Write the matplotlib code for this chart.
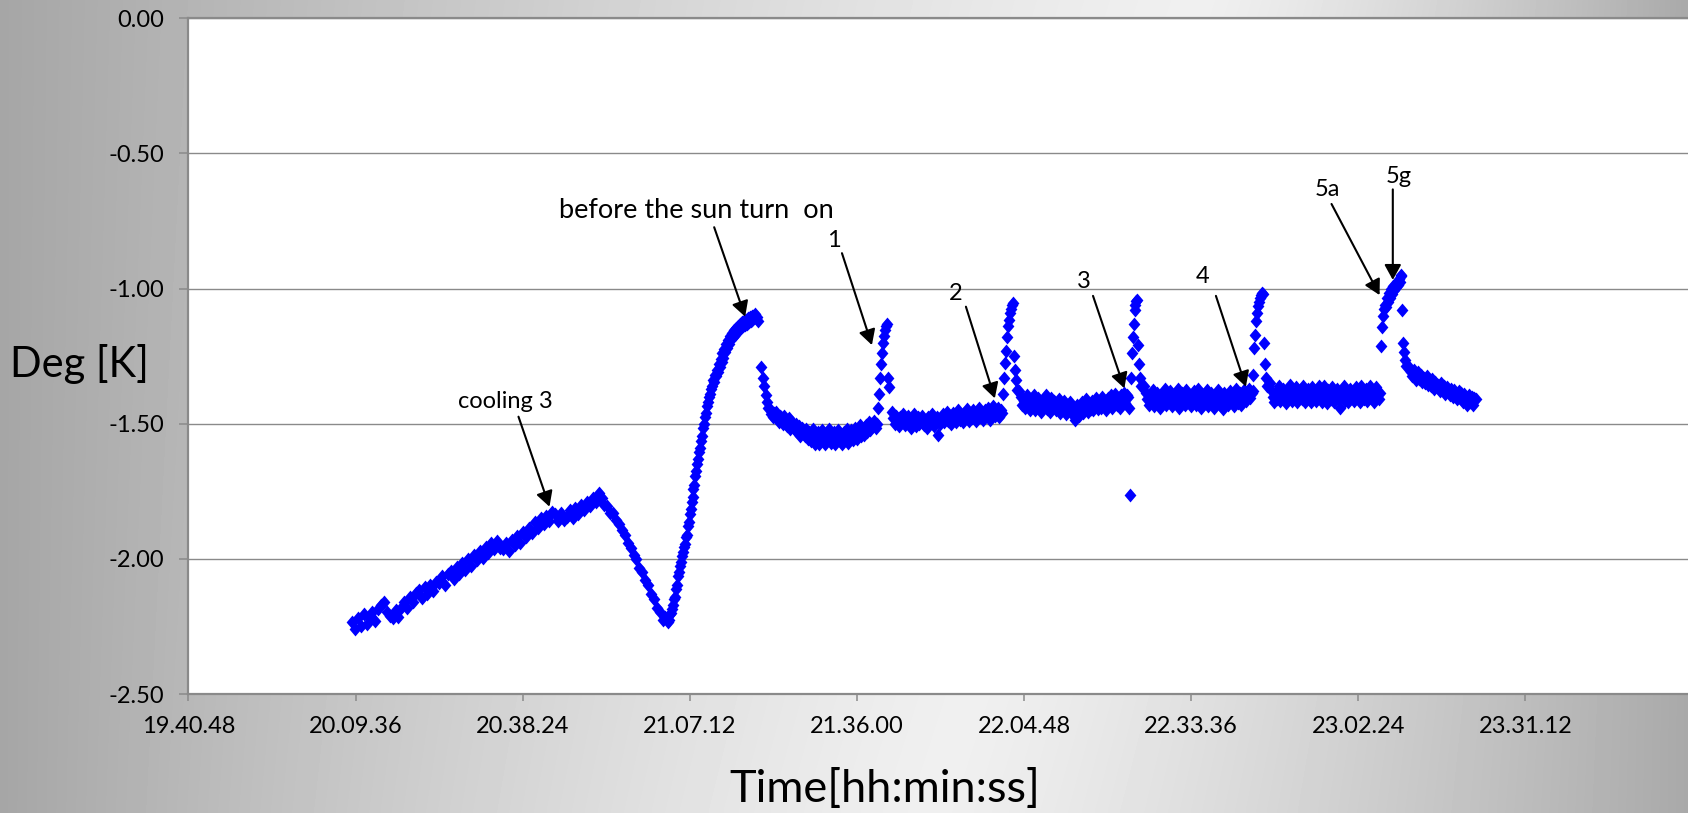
import numpy as np
import matplotlib
matplotlib.use("Agg")
import matplotlib.pyplot as plt
from matplotlib.ticker import FormatStrFormatter

# temperature logger readings [K]
# each block: start time, sample interval in seconds, readings
seg_a_start, seg_a_step = "20:09:00", 30
seg_a = [-2.235, -2.26, -2.22, -2.25, -2.205, -2.24, -2.215, -2.195, -2.23, -2.185,
         -2.17, -2.16, -2.195, -2.21, -2.22, -2.19, -2.215, -2.18, -2.16, -2.18,
         -2.14, -2.16, -2.125, -2.115, -2.145, -2.105, -2.13, -2.095, -2.12, -2.085,
         -2.09, -2.065, -2.095, -2.055, -2.045, -2.075, -2.03, -2.055, -2.015, -2.04,
         -2.0, -2.025, -1.985, -2.005, -1.97, -1.995, -1.955, -1.98, -1.94, -1.965,
         -1.935, -1.96, -1.965, -1.94, -1.97, -1.93, -1.95, -1.915, -1.94, -1.9,
         -1.92, -1.885, -1.905, -1.865, -1.885, -1.85, -1.87, -1.84, -1.86, -1.825,
         -1.835, -1.86, -1.83, -1.855, -1.845, -1.82, -1.85, -1.81, -1.835, -1.8,
         -1.82, -1.79, -1.805, -1.775, -1.79, -1.755,
         -1.775, -1.8, -1.805, -1.83, -1.83, -1.855, -1.87, -1.895, -1.91, -1.94,
         -1.96, -1.985, -2.0, -2.035, -2.05, -2.08, -2.095, -2.13, -2.15, -2.18,
         -2.195, -2.225, -2.215, -2.235]

seg_b_start, seg_b_step = "21:03:40", 10
seg_b = [-2.225, -2.205, -2.2, -2.185, -2.17, -2.15, -2.14, -2.11, -2.095,
         -2.065, -2.05, -2.025, -2.01, -1.99, -1.975, -1.955, -1.945, -1.92,
         -1.91, -1.88, -1.865, -1.835, -1.815, -1.79, -1.77, -1.74, -1.725,
         -1.695, -1.675, -1.65, -1.63, -1.605, -1.59, -1.565, -1.545, -1.515,
         -1.5, -1.475, -1.46, -1.435, -1.42, -1.4, -1.39, -1.37, -1.36,
         -1.34, -1.345, -1.32, -1.325, -1.3, -1.31, -1.28, -1.29, -1.26,
         -1.27, -1.24, -1.255, -1.225, -1.235, -1.205, -1.22, -1.19, -1.205,
         -1.175, -1.185, -1.165, -1.18, -1.155, -1.17, -1.145, -1.16, -1.14,
         -1.15, -1.13, -1.145, -1.125, -1.14, -1.12, -1.135, -1.115, -1.13,
         -1.11, -1.125, -1.105, -1.12, -1.1, -1.115, -1.1, -1.11, -1.095,
         -1.11, -1.105, -1.12]

seg_c_start, seg_c_step = "21:19:30", 15
seg_c = [-1.29, -1.33, -1.36, -1.395, -1.42, -1.44, -1.445, -1.465, -1.475, -1.46,
         -1.455, -1.48, -1.495, -1.47, -1.475, -1.5, -1.47, -1.49, -1.51, -1.48,
         -1.52, -1.495, -1.505, -1.525, -1.5, -1.53, -1.51, -1.545, -1.515, -1.53,
         -1.545, -1.52, -1.555, -1.53, -1.565, -1.54, -1.52, -1.575, -1.55, -1.53,
         -1.575, -1.545, -1.525, -1.56, -1.575, -1.535, -1.555, -1.52, -1.57, -1.545,
         -1.53, -1.575, -1.55, -1.525, -1.565, -1.54, -1.575, -1.53, -1.555, -1.52,
         -1.57, -1.545, -1.525, -1.56, -1.535, -1.515, -1.555, -1.53, -1.505, -1.545,
         -1.52, -1.54, -1.505, -1.53, -1.495, -1.525, -1.5, -1.51, -1.49, -1.515,
         -1.5]

seg_d_start, seg_d_step = "21:39:40", 10
seg_d = [-1.44, -1.39, -1.33, -1.28, -1.24, -1.2, -1.175, -1.155, -1.14, -1.13,
         -1.33, -1.365]

seg_e_start, seg_e_step = "21:42:00", 15
seg_e = [-1.455, -1.48, -1.5, -1.47, -1.49, -1.51, -1.475, -1.495, -1.465, -1.505,
         -1.485, -1.47, -1.5, -1.515, -1.48, -1.465, -1.495, -1.51, -1.475, -1.5,
         -1.485, -1.47, -1.505, -1.49, -1.515, -1.475, -1.5, -1.48, -1.465, -1.51,
         -1.49, -1.475, -1.54, -1.5, -1.48, -1.465, -1.495, -1.475, -1.455, -1.49,
         -1.47, -1.5, -1.46, -1.48, -1.495, -1.465, -1.45, -1.485, -1.47, -1.495,
         -1.46, -1.475, -1.445, -1.49, -1.465, -1.48, -1.45, -1.47, -1.49, -1.455,
         -1.44, -1.475, -1.46, -1.485, -1.45, -1.47, -1.44, -1.465, -1.485, -1.45,
         -1.435, -1.47, -1.455, -1.44, -1.475, -1.45, -1.46]

seg_f_start, seg_f_step = "22:01:10", 10
seg_f = [-1.39, -1.33, -1.275, -1.23, -1.18, -1.14, -1.115, -1.09, -1.075, -1.06,
         -1.055, -1.25, -1.3, -1.34, -1.375]

seg_g_start, seg_g_step = "22:04:00", 15
seg_g = [-1.38, -1.4, -1.43, -1.415, -1.44, -1.395, -1.425, -1.45, -1.41, -1.435,
         -1.395, -1.45, -1.42, -1.405, -1.44, -1.455, -1.415, -1.43, -1.395, -1.445,
         -1.42, -1.455, -1.405, -1.435, -1.415, -1.45, -1.43, -1.41, -1.46, -1.425,
         -1.44, -1.415, -1.465, -1.43, -1.45, -1.42, -1.465, -1.44, -1.485, -1.455,
         -1.43, -1.47, -1.445, -1.42, -1.46, -1.435, -1.41, -1.455, -1.43, -1.445,
         -1.415, -1.45, -1.425, -1.405, -1.445, -1.42, -1.44, -1.4, -1.435, -1.415,
         -1.45, -1.405, -1.43, -1.395, -1.44, -1.415, -1.39, -1.43, -1.41, -1.44,
         -1.395, -1.42, -1.385, -1.425, -1.395]

seg_h_start, seg_h_step = "22:22:40", 10
seg_h = [-1.4, -1.44, -1.765, -1.33, -1.24, -1.18, -1.13, -1.08, -1.06, -1.045,
         -1.042, -1.21, -1.28, -1.33, -1.36]

seg_i_start, seg_i_step = "22:25:30", 15
seg_i = [-1.36, -1.385, -1.41, -1.43, -1.395, -1.42, -1.375, -1.435, -1.405, -1.385,
         -1.425, -1.44, -1.39, -1.41, -1.37, -1.43, -1.4, -1.42, -1.38, -1.435,
         -1.41, -1.39, -1.425, -1.37, -1.44, -1.405, -1.385, -1.42, -1.43, -1.375,
         -1.41, -1.395, -1.435, -1.42, -1.38, -1.4, -1.43, -1.37, -1.415, -1.44,
         -1.39, -1.405, -1.425, -1.375, -1.435, -1.4, -1.385, -1.42, -1.44, -1.395,
         -1.41, -1.375, -1.43, -1.405, -1.445, -1.385, -1.42, -1.4, -1.43, -1.38,
         -1.415, -1.395, -1.435, -1.37, -1.41, -1.425, -1.385, -1.43, -1.4, -1.375,
         -1.415, -1.39, -1.37, -1.405, -1.385]

seg_j_start, seg_j_step = "22:44:10", 10
seg_j = [-1.38, -1.32, -1.22, -1.17, -1.12, -1.09, -1.065, -1.05, -1.035, -1.025,
         -1.017, -1.02, -1.2, -1.28, -1.33, -1.36]

seg_k_start, seg_k_step = "22:47:10", 15
seg_k = [-1.35, -1.375, -1.4, -1.42, -1.385, -1.41, -1.36, -1.415, -1.39, -1.37,
         -1.405, -1.425, -1.38, -1.4, -1.355, -1.415, -1.39, -1.41, -1.365, -1.42,
         -1.395, -1.375, -1.41, -1.36, -1.42, -1.385, -1.37, -1.405, -1.42, -1.365,
         -1.4, -1.38, -1.415, -1.405, -1.36, -1.39, -1.42, -1.36, -1.4, -1.425,
         -1.375, -1.395, -1.41, -1.365, -1.42, -1.385, -1.37, -1.405, -1.44, -1.385,
         -1.4, -1.36, -1.415, -1.39, -1.42, -1.37, -1.405, -1.385, -1.415, -1.365,
         -1.4, -1.38, -1.42, -1.36, -1.395, -1.41, -1.37, -1.415, -1.39, -1.36,
         -1.405, -1.38, -1.42, -1.365, -1.395, -1.41, -1.385]

seg_l_start, seg_l_step = "23:06:20", 10
seg_l = [-1.213, -1.143, -1.1, -1.075, -1.06, -1.07, -1.035, -1.05, -1.015, -1.035,
         -1.0, -1.02, -0.99, -1.005, -0.985, -0.995, -0.975, -0.985, -0.965, -0.975,
         -0.955, -0.95, -1.08, -1.2, -1.235, -1.265, -1.285]

seg_m_start, seg_m_step = "23:11:10", 15
seg_m = [-1.29, -1.31, -1.325, -1.3, -1.32, -1.34, -1.31, -1.335, -1.32, -1.345,
         -1.33, -1.35, -1.325, -1.355, -1.34, -1.36, -1.335, -1.37, -1.345, -1.365,
         -1.355, -1.38, -1.35, -1.375, -1.36, -1.39, -1.365, -1.38, -1.395, -1.37,
         -1.4, -1.375, -1.395, -1.41, -1.38, -1.405, -1.385, -1.42, -1.39, -1.41,
         -1.43, -1.395, -1.42, -1.4, -1.43, -1.405, -1.41]

x_ticks_h = [19.68, 20.16, 20.64, 21.12, 21.60, 22.08, 22.56, 23.04, 23.52]
x_tick_labels = ["19.40.48", "20.09.36", "20.38.24", "21.07.12", "21.36.00",
                 "22.04.48", "22.33.36", "23.02.24", "23.31.12"]
y_ticks = [-2.5, -2.0, -1.5, -1.0, -0.5, 0.0]

# annotations: text, text pos, arrow tail, arrow head (hours, K)
notes = [
    ("cooling 3", (20.589, -1.443), (20.628, -1.474), (20.717, -1.807)),
    ("before the sun turn  on", (21.138, -0.740), (21.190, -0.773), (21.279, -1.104)),
    ("1", (21.535, -0.848), (21.557, -0.869), (21.643, -1.209)),
    ("2", (21.885, -1.042), (21.913, -1.067), (21.996, -1.406)),
    ("3", (22.253, -0.998), (22.278, -1.027), (22.368, -1.369)),
    ("4", (22.594, -0.979), (22.631, -1.027), (22.717, -1.363)),
    ("5a", (22.951, -0.657), (22.963, -0.687), (23.101, -1.024)),
    ("5g", (23.155, -0.610), (23.139, -0.633), (23.139, -0.968)),
]


def clock_to_hours(s):
    h, m, sec = (int(p) for p in s.split(":"))
    return h + m / 60.0 + sec / 3600.0


segments = [(seg_a_start, seg_a_step, seg_a), (seg_b_start, seg_b_step, seg_b),
            (seg_c_start, seg_c_step, seg_c), (seg_d_start, seg_d_step, seg_d),
            (seg_e_start, seg_e_step, seg_e), (seg_f_start, seg_f_step, seg_f),
            (seg_g_start, seg_g_step, seg_g), (seg_h_start, seg_h_step, seg_h),
            (seg_i_start, seg_i_step, seg_i), (seg_j_start, seg_j_step, seg_j),
            (seg_k_start, seg_k_step, seg_k), (seg_l_start, seg_l_step, seg_l),
            (seg_m_start, seg_m_step, seg_m)]

t_all, v_all = [], []
for start, step, vals in segments:
    t0 = clock_to_hours(start)
    t_all.append(t0 + np.arange(len(vals)) * step / 3600.0)
    v_all.append(np.array(vals))
t_all = np.concatenate(t_all)
v_all = np.concatenate(v_all)

plt.rcParams['font.family'] = ['Lato', 'DejaVu Sans']

W, H = 1688, 813
fig = plt.figure(figsize=(W / 100, H / 100), dpi=100)

# grey backdrop, light towards the lower middle
yy, xx = np.mgrid[0:H:4, 0:W:4].astype(float)
cx = 930 + 270 * (1 - yy / H)
dx = xx - cx
r = np.where(dx < 0, -dx / cx, dx / ((W - cx) / 0.97))
shade = 0.94 - 0.29 * np.clip(r, 0, 1) ** 1.3
bg = fig.add_axes([0, 0, 1, 1], zorder=-10)
bg.imshow(shade, cmap='gray', vmin=0, vmax=1, aspect='auto',
          extent=[0, 1, 0, 1], interpolation='bilinear')
bg.axis('off')

ax = fig.add_axes([188.4 / W, (H - 694) / H, (1692.6 - 188.4) / W, (694 - 18.3) / H])
ax.set_facecolor('white')

diamond = [(0, 1), (0.85, 0), (0, -1), (-0.85, 0), (0, 1)]
ax.plot(t_all, v_all, ls='none', marker=diamond, ms=10, mfc='#0000ff',
        mec='none', zorder=3)

ax.set_xlim(19.68, 24.0)
ax.set_ylim(-2.5, 0.0)
ax.set_xticks(x_ticks_h)
ax.set_xticklabels(x_tick_labels)
ax.set_yticks(y_ticks)
ax.yaxis.set_major_formatter(FormatStrFormatter('%.2f'))

grey = '#8a8a8a'
ax.yaxis.grid(True, color=grey, lw=1.0)
ax.set_axisbelow(True)
for side in ('left', 'bottom', 'top'):
    ax.spines[side].set_color(grey)
    ax.spines[side].set_linewidth(1.6)
ax.spines['right'].set_visible(False)
ax.tick_params(axis='y', direction='out', length=6.5, width=1.1, color=grey,
               labelsize=17, pad=11)
ax.tick_params(axis='x', direction='out', length=5, width=1.1, color=grey,
               labelsize=17, pad=11)

for text, tpos, tail, head in notes:
    size = 19.5 if len(text) > 12 else 17
    ax.text(tpos[0], tpos[1], text, ha='center', va='baseline', fontsize=size)
    ax.annotate('', xy=head, xytext=tail,
                arrowprops=dict(arrowstyle='-|>,head_length=0.4,head_width=0.22',
                                color='black', lw=1.5, mutation_scale=23,
                                shrinkA=0, shrinkB=0))

fig.text(79 / W, 1 - 377 / H, 'Deg [K]', ha='center', va='baseline', fontsize=30)
fig.text(884.5 / W, 1 - 802 / H, 'Time[hh:min:ss]', ha='center', va='baseline',
         fontsize=32.5)

fig.savefig('out.png', dpi=100)
